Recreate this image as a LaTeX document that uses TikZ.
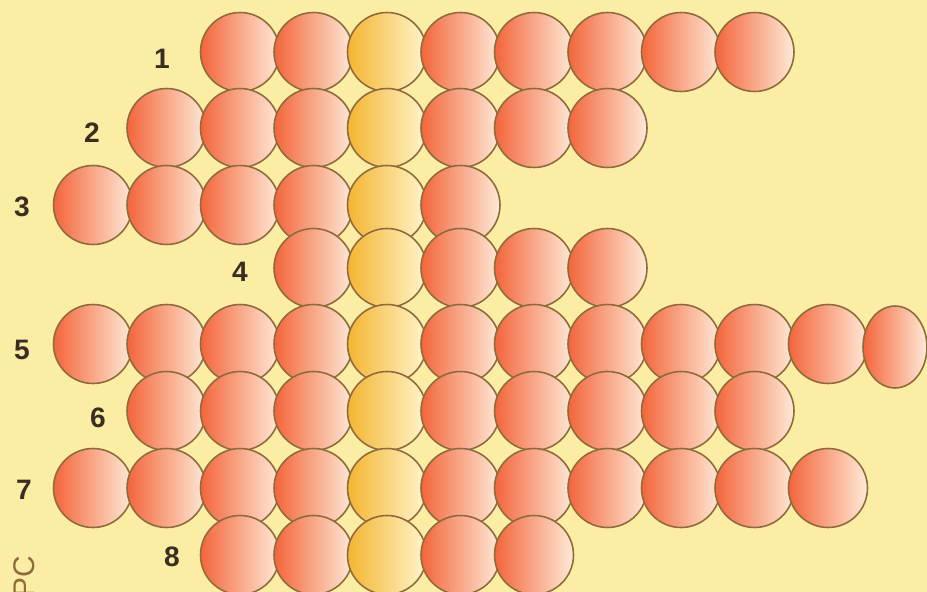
\documentclass[tikz,border=0pt]{standalone}
\usepackage{fontspec}
\setmainfont{Liberation Sans}
\usepackage{tikz}
\usetikzlibrary{shapes.geometric}
\definecolor{bpaper}{HTML}{FBEDA3}
\definecolor{bedge}{HTML}{8E6A3C}
\definecolor{borange}{HTML}{F3653A}
\definecolor{bpeach}{HTML}{FEEAD8}
\definecolor{bgold}{HTML}{F4B531}
\definecolor{bcream}{HTML}{FEF5CC}
\definecolor{bink}{HTML}{3A2E22}
\tikzset{
  ball/.style={circle,draw=bedge,line width=0.9pt,minimum size=1.58cm,inner sep=0pt},
  coral/.style={ball,left color=borange,right color=bpeach},
  gold/.style={ball,left color=bgold,right color=bcream},
  rownum/.style={font=\fontsize{16}{18}\selectfont\bfseries,text=bink,inner sep=0pt},
}

\begin{document}
\begin{tikzpicture}[x=0.02cm,y=-0.02cm]
  \useasboundingbox (0,0) rectangle (927,592);
  \fill[bpaper] (0,0) rectangle (927,592);
  \clip (0,0) rectangle (927,592);
  % fileiras de bolas
  \foreach \r/\y/\a/\b in {1/52/2/9,2/128/1/7,3/205/0/5,4/268/3/7,5/344/0/10,6/411/1/9,7/488/0/10,8/555/2/6} {
    \foreach \c in {\a,...,\b} {
      \ifnum\c=4 \def\st{gold}\else\def\st{coral}\fi
      \node[\st] (b-\r-\c) at (93+73.5*\c,\y) {};
    }
  }
  \node[coral,ellipse,minimum size=0pt,minimum width=1.28cm,minimum height=1.64cm] (b-5-11) at (895,347) {};
  % numeros
  \foreach \r/\x/\y in {1/162/59,2/92/133,3/22/207,4/240/272,5/22/350,6/98/418,7/24/490,8/172/557} {
    \node[rownum] (l\r) at (\x,\y) {\r};
  }
  \node[font=\fontsize{17}{18}\selectfont,text=bedge,rotate=90,anchor=east,inner sep=0pt] (pc) at (24,556) {PC};
\end{tikzpicture}
\end{document}
